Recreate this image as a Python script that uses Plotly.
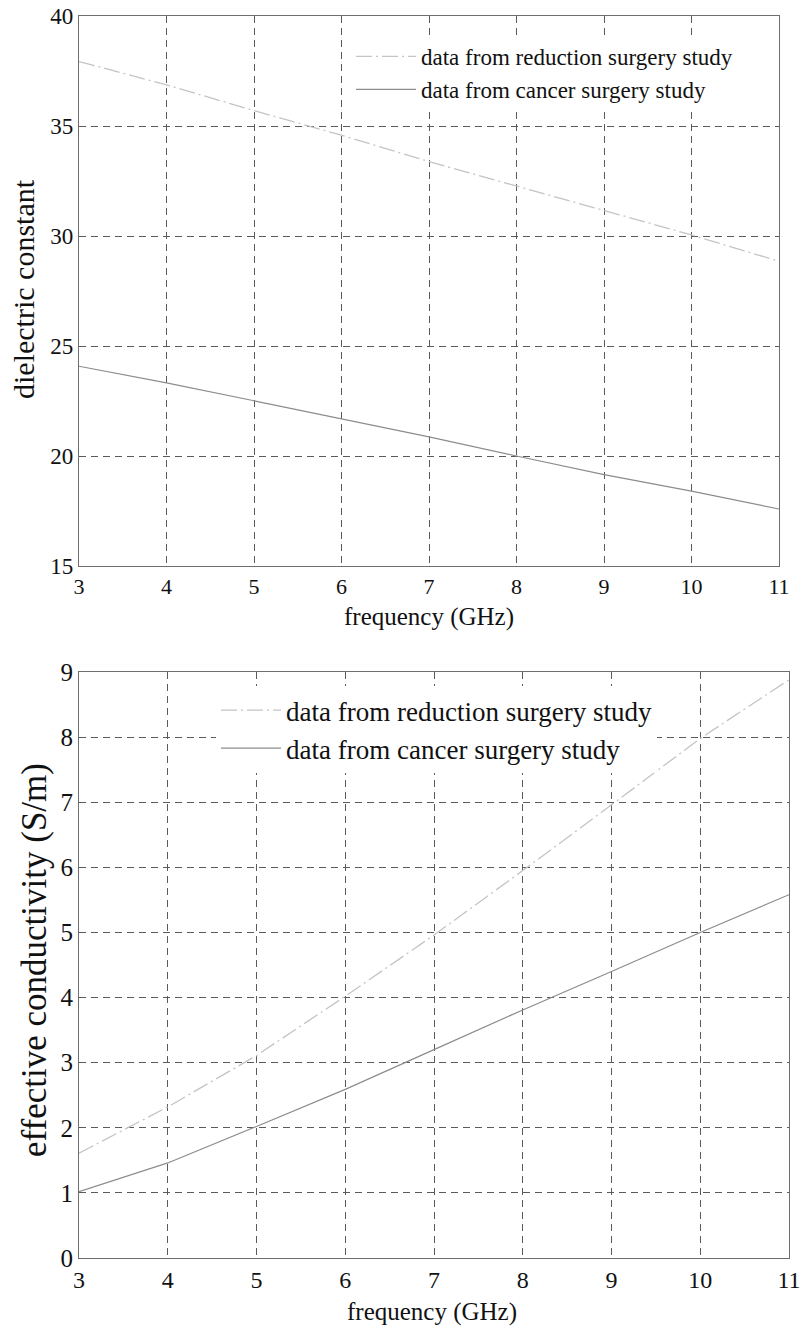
import plotly.graph_objects as go

# Frequency sweep (GHz)
freq = [3, 4, 5, 6, 7, 8, 9, 10, 11]

# Dielectric constant
eps_reduction = [37.93, 36.87, 35.70, 34.58, 33.38, 32.27, 31.15, 30.05, 28.85]
eps_cancer = [24.08, 23.32, 22.51, 21.69, 20.87, 20.00, 19.15, 18.40, 17.59]

# Effective conductivity (S/m)
sig_reduction = [1.61, 2.32, 3.11, 4.02, 4.96, 5.95, 6.96, 7.98, 8.88]
sig_cancer = [1.02, 1.46, 2.02, 2.59, 3.20, 3.81, 4.40, 5.00, 5.58]

label_reduction = "data from reduction surgery study"
label_cancer = "data from cancer surgery study"
x_title = "frequency (GHz)"
y_title_top = "dielectric constant"
y_title_bottom = "effective conductivity (S/m)"

W, H = 802, 1328
FONT = "Liberation Serif"
RED_COLOR = "#c4c4c4"
CAN_COLOR = "#8c8c8c"
RED_DASH = "16px,4px,2px,4px"

fig = go.Figure()

fig.add_trace(go.Scatter(x=freq, y=eps_reduction, mode="lines", name=label_reduction,
                         line=dict(color=RED_COLOR, width=1.3, dash=RED_DASH),
                         xaxis="x", yaxis="y", legend="legend"))
fig.add_trace(go.Scatter(x=freq, y=eps_cancer, mode="lines", name=label_cancer,
                         line=dict(color=CAN_COLOR, width=1.2),
                         xaxis="x", yaxis="y", legend="legend"))
fig.add_trace(go.Scatter(x=freq, y=sig_reduction, mode="lines", name=label_reduction,
                         line=dict(color=RED_COLOR, width=1.3, dash=RED_DASH),
                         xaxis="x2", yaxis="y2", legend="legend2"))
fig.add_trace(go.Scatter(x=freq, y=sig_cancer, mode="lines", name=label_cancer,
                         line=dict(color=CAN_COLOR, width=1.2),
                         xaxis="x2", yaxis="y2", legend="legend2"))


def px_x(p):
    return p / W


def px_y(p):
    return 1 - p / H


axis_common = dict(
    showline=True, mirror=True, linecolor="#6e6e6e", linewidth=1.2,
    showgrid=True, gridcolor="#5a5a5a", gridwidth=1, griddash="7px,5px",
    zeroline=False, ticks="", color="#111", automargin=False,
)

# Axis titles placed as paper-anchored text
titles = [
    dict(text=x_title, x=px_x(429), y=px_y(617), size=25, angle=0),
    dict(text=y_title_top, x=px_x(23), y=px_y(289), size=30, angle=-90),
    dict(text=x_title, x=px_x(432), y=px_y(1312), size=25, angle=0),
    dict(text=y_title_bottom, x=px_x(34), y=px_y(960), size=35, angle=-90),
]
annotations = [
    dict(text=t["text"], x=t["x"], y=t["y"], xref="paper", yref="paper",
         xanchor="center", yanchor="middle", showarrow=False, textangle=t["angle"],
         font=dict(family=FONT, size=t["size"], color="#111"))
    for t in titles
]

fig.update_layout(
    width=W, height=H,
    margin=dict(l=0, r=0, t=0, b=0),
    paper_bgcolor="white", plot_bgcolor="white",
    font=dict(family=FONT, color="#111"),
    xaxis=dict(domain=[px_x(79), px_x(779)], anchor="y", range=[3, 11], dtick=1,
               tickfont=dict(size=22), **axis_common),
    yaxis=dict(domain=[px_y(566), px_y(16)], anchor="x", range=[15, 40], dtick=5,
               tickfont=dict(size=23), **axis_common),
    xaxis2=dict(domain=[px_x(79), px_x(789)], anchor="y2", range=[3, 11], dtick=1,
                tickfont=dict(size=24), **axis_common),
    yaxis2=dict(domain=[px_y(1258), px_y(672)], anchor="x2", range=[0, 9], dtick=1,
                tickfont=dict(size=25), **axis_common),
    legend=dict(x=px_x(351), y=px_y(35), xanchor="left", yanchor="top",
                bgcolor="white", borderwidth=0, font=dict(size=23, family=FONT),
                itemwidth=60, tracegroupgap=0),
    legend2=dict(x=px_x(216), y=px_y(686), xanchor="left", yanchor="top",
                 bgcolor="white", borderwidth=0, font=dict(size=27, family=FONT),
                 itemwidth=60, tracegroupgap=0),
    annotations=annotations,
)

fig.write_html("out.html")
